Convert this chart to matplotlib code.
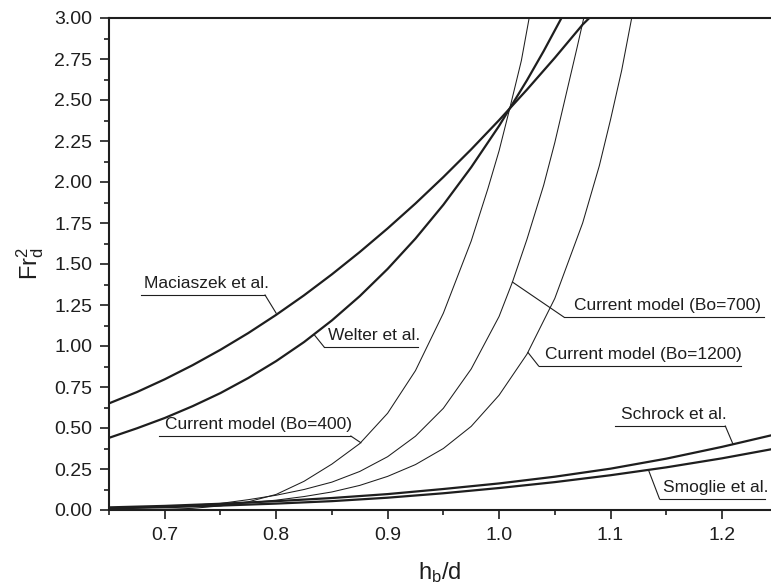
import matplotlib
matplotlib.use("Agg")
import matplotlib.pyplot as plt
from matplotlib.ticker import MultipleLocator, FormatStrFormatter

plt.rcParams['font.family'] = ['Liberation Sans', 'DejaVu Sans']
plt.rcParams['mathtext.fontset'] = 'custom'
plt.rcParams['mathtext.rm'] = 'Liberation Sans'
plt.rcParams['mathtext.it'] = 'Liberation Sans:italic'

# values
mac_x = [0.65, 0.675, 0.70, 0.725, 0.75, 0.775, 0.80, 0.825, 0.85, 0.875, 0.90, 0.925,
         0.95, 0.975, 1.00, 1.025, 1.05, 1.075, 1.081]
mac_y = [0.65, 0.719, 0.797, 0.883, 0.977, 1.079, 1.19, 1.309, 1.437, 1.573, 1.717, 1.869,
         2.03, 2.199, 2.377, 2.563, 2.757, 2.96, 3.0]

wel_x = [0.65, 0.675, 0.70, 0.725, 0.75, 0.775, 0.80, 0.825, 0.85, 0.875, 0.90, 0.925,
         0.95, 0.975, 1.00, 1.025, 1.04, 1.056]
wel_y = [0.44, 0.498, 0.561, 0.633, 0.713, 0.805, 0.908, 1.024, 1.156, 1.304, 1.47, 1.655,
         1.861, 2.09, 2.342, 2.62, 2.798, 3.0]

bo400_x = [0.65, 0.70, 0.725, 0.75, 0.775, 0.80, 0.825, 0.85, 0.875, 0.90, 0.925, 0.95,
           0.975, 0.99, 1.00, 1.01, 1.02, 1.027]
bo400_y = [0.0, 0.004, 0.01, 0.025, 0.05, 0.095, 0.175, 0.28, 0.405, 0.59, 0.85, 1.20,
           1.64, 1.96, 2.19, 2.46, 2.74, 3.0]

bo700_x = [0.65, 0.70, 0.75, 0.775, 0.80, 0.825, 0.85, 0.875, 0.90, 0.925, 0.95, 0.975,
           1.00, 1.012, 1.025, 1.04, 1.05, 1.06, 1.07, 1.076]
bo700_y = [0.01, 0.02, 0.04, 0.063, 0.09, 0.125, 0.17, 0.235, 0.325, 0.45, 0.62, 0.86,
           1.18, 1.39, 1.65, 1.98, 2.24, 2.53, 2.82, 3.0]

bo1200_x = [0.65, 0.70, 0.75, 0.775, 0.80, 0.825, 0.85, 0.875, 0.90, 0.925, 0.95, 0.975,
            1.00, 1.025, 1.05, 1.075, 1.09, 1.10, 1.11, 1.119]
bo1200_y = [0.009, 0.017, 0.032, 0.044, 0.06, 0.082, 0.11, 0.15, 0.205, 0.277, 0.375, 0.51,
            0.70, 0.95, 1.29, 1.75, 2.10, 2.38, 2.68, 3.0]

sch_x = [0.65, 0.70, 0.75, 0.80, 0.85, 0.90, 0.95, 1.00, 1.05, 1.10, 1.15, 1.20, 1.244]
sch_y = [0.016, 0.025, 0.038, 0.054, 0.073, 0.097, 0.128, 0.162, 0.203, 0.252, 0.313, 0.385, 0.455]

smo_x = [0.65, 0.70, 0.75, 0.80, 0.85, 0.90, 0.95, 1.00, 1.05, 1.10, 1.15, 1.20, 1.244]
smo_y = [0.010, 0.017, 0.027, 0.039, 0.054, 0.075, 0.102, 0.134, 0.17, 0.212, 0.26, 0.315, 0.37]

# label text, curve point, underline (x0, x1, y), underline end the leader attaches to
labels = [
    ("Maciaszek et al.", (0.800, 1.20), (0.679, 0.790, 1.311), "right"),
    ("Welter et al.", (0.834, 1.07), (0.843, 0.927, 0.994), "left"),
    ("Current model (Bo=400)", (0.876, 0.41), (0.695, 0.867, 0.451), "right"),
    ("Current model (Bo=700)", (1.012, 1.39), (1.058, 1.2375, 1.177), "left"),
    ("Current model (Bo=1200)", (1.026, 0.96), (1.0355, 1.217, 0.878), "left"),
    ("Schrock et al.", (1.210, 0.40), (1.104, 1.203, 0.512), "right"),
    ("Smoglie et al.", (1.134, 0.245), (1.144, 1.239, 0.067), "left"),
]

fig = plt.figure(figsize=(7.71, 5.88), dpi=100)
ax = fig.add_axes([109 / 771, 1 - 510 / 588, 1 - 109 / 771, (510 - 18) / 588])

col = '#1e1e1e'
for xs, ys in [(mac_x, mac_y), (wel_x, wel_y), (sch_x, sch_y), (smo_x, smo_y)]:
    ax.plot(xs, ys, color=col, lw=1.6, solid_joinstyle='round')
for xs, ys in [(bo400_x, bo400_y), (bo700_x, bo700_y), (bo1200_x, bo1200_y)]:
    ax.plot(xs, ys, color=col, lw=0.75, solid_joinstyle='round')

for txt, (cx, cy), (u0, u1, uy), side in labels:
    ex = u1 if side == "right" else u0
    ax.plot([cx, ex], [cy, uy], color=col, lw=0.8)
    ax.plot([u0, u1], [uy, uy], color=col, lw=0.8)
    ax.text((u0 + u1) / 2 + 0.003, uy + 0.025, txt, ha='center', va='bottom', fontsize=12.5, color=col)

ax.set_xlim(0.65, 1.244)
ax.set_ylim(0, 3.0)
ax.xaxis.set_major_locator(MultipleLocator(0.1))
ax.xaxis.set_minor_locator(MultipleLocator(0.05))
ax.yaxis.set_major_locator(MultipleLocator(0.25))
ax.yaxis.set_minor_locator(MultipleLocator(0.125))
ax.xaxis.set_major_formatter(FormatStrFormatter('%.1f'))
ax.yaxis.set_major_formatter(FormatStrFormatter('%.2f'))
ax.tick_params(which='major', direction='out', length=6.5, width=1.2, labelsize=14, pad=5.5, colors=col)
ax.tick_params(which='minor', direction='out', length=3.5, width=1.2, colors=col)
ax.tick_params(top=False, right=False, which='both')

for s in ['left', 'bottom', 'top']:
    ax.spines[s].set_linewidth(1.5)
    ax.spines[s].set_color(col)
ax.spines['right'].set_visible(False)

ax.set_xlabel('h$_\\mathrm{b}$/d', fontsize=17, color=col, labelpad=12)
ax.set_ylabel('Fr$_\\mathrm{d}^\\mathrm{2}$', fontsize=17, color=col, labelpad=6)

fig.savefig("out.png", dpi=100)
